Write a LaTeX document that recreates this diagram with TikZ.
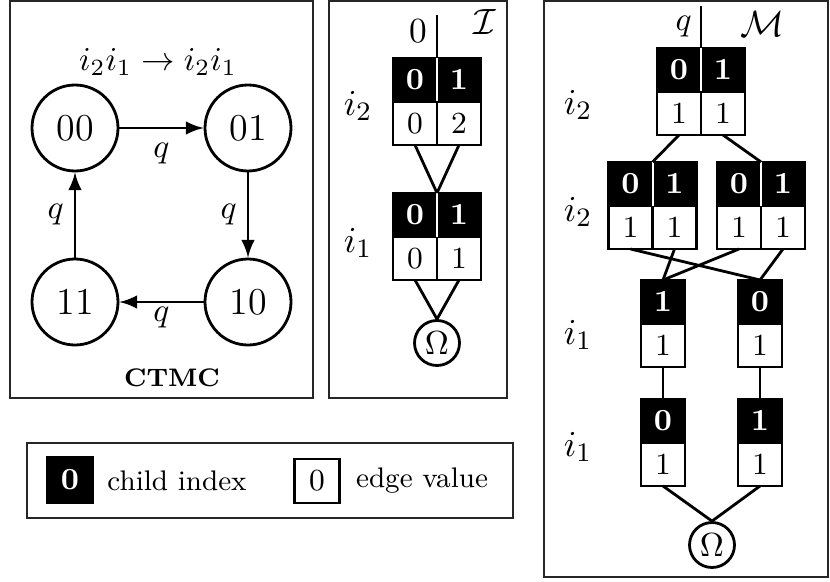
\documentclass[tikz,border=0pt]{standalone}
\usepackage{amsmath}
\usepackage{amssymb}
\usetikzlibrary{positioning}

\begin{document}
\begin{tikzpicture}[x=0.3pt, y=-0.3pt, line width=0.84pt,
    ci/.style={fill=black, draw=black, text=white, font=\fontsize{9.2}{11}\selectfont\bfseries,
      minimum width=13.2pt, minimum height=13.05pt, inner sep=0pt, outer sep=0pt},
    ev/.style={draw=black, fill=white, font=\fontsize{9.2}{11}\selectfont,
      minimum width=13.2pt, minimum height=13.05pt, inner sep=0pt, outer sep=0pt},
    state/.style={circle, draw, minimum size=25.8pt, inner sep=0pt, font=\fontsize{11.4}{14}\selectfont},
    term/.style={circle, draw, minimum size=13.5pt, inner sep=0pt, font=\fontsize{10.4}{12}\selectfont},
    lvl/.style={font=\fontsize{11.2}{13}\selectfont},
    lbl/.style={inner sep=1.2pt, font=\fontsize{9.9}{12}\selectfont},
    panel/.style={draw=black!85, line width=0.5pt},
    gap/.style={draw=white, line width=0.6pt}]
  \useasboundingbox (0,0) rectangle (830,581);

  % Frames
  \draw[panel] (10,1) rectangle (313,398);
  \draw[panel] (329,1) rectangle (507,398);
  \draw[panel] (544,1) rectangle (828,577);
  \draw[panel] (27,443) rectangle (513,518);

  % CTMC
  \node[lbl] (title) at (158,62) {$i_2i_1 \rightarrow i_2i_1$};
  \node[state] (s00) at (75,128) {00};
  \node[state] (s01) at (248,128) {01};
  \node[state] (s10) at (248,302) {10};
  \node[state] (s11) at (75,302) {11};
  \draw[-latex] (s00) -- (s01) node[lbl, midway, below=3pt] {$q$};
  \draw[-latex] (s01) -- (s10) node[lbl, midway, left=1.8pt] {$q$};
  \draw[-latex] (s10) -- (s11) node[lbl, midway, below=0pt] {$q$};
  \draw[-latex] (s11) -- (s00) node[lbl, midway, left=1.8pt] {$q$};
  \node[font=\fontsize{7.6}{9}\selectfont\bfseries] (ctmc) at (172,378) {CTMC};

  % Index diagram
  \node[lvl] (iname) at (485,22) {$\mathcal{I}$};
  \node[lvl] (il2) at (358,106) {$i_2$};
  \node[lvl] (il1) at (358,243) {$i_1$};
  \coordinate (iroot) at (437,15);
  \node[ci, anchor=north east] (a-c0) at (437,58) {0};
  \node[ci, right=0pt of a-c0] (a-c1) {1};
  \node[ev, below=0pt of a-c0] (a-v0) {0};
  \node[ev, below=0pt of a-c1] (a-v1) {2};
  \node[ci, anchor=north east] (b-c0) at (437,193) {0};
  \node[ci, right=0pt of b-c0] (b-c1) {1};
  \node[ev, below=0pt of b-c0] (b-v0) {0};
  \node[ev, below=0pt of b-c1] (b-v1) {1};
  \node[term] (iomega) at (437,343) {$\Omega$};
  \draw[gap] (a-c0.north east) -- (a-c0.south east);
  \draw[gap] (b-c0.north east) -- (b-c0.south east);
  \draw (iroot) -- (a-c0.north east) node[pos=0.38, left=1.2pt, inner sep=1.2pt, font=\fontsize{10.6}{12}\selectfont] {0};
  \draw (a-v0.south) -- (b-c0.north east);
  \draw (a-v1.south) -- (b-c0.north east);
  \draw (b-v0.south) -- (iomega.north);
  \draw (b-v1.south) -- (iomega.north);

  % Rate diagram
  \node[lvl] (mname) at (762,24) {$\mathcal{M}$};
  \node[lvl] (ml2a) at (578,105) {$i_2$};
  \node[lvl] (ml2b) at (578,212) {$i_2$};
  \node[lvl] (ml1a) at (578,335) {$i_1$};
  \node[lvl] (ml1b) at (578,447) {$i_1$};
  \coordinate (mroot) at (701,6);
  \node[ci, anchor=north east] (t-c0) at (701,48) {0};
  \node[ci, right=0pt of t-c0] (t-c1) {1};
  \node[ev, below=0pt of t-c0] (t-v0) {1};
  \node[ev, below=0pt of t-c1] (t-v1) {1};
  \node[ci, anchor=north east] (la-c0) at (652.5,162) {0};
  \node[ci, right=0pt of la-c0] (la-c1) {1};
  \node[ev, below=0pt of la-c0] (la-v0) {1};
  \node[ev, below=0pt of la-c1] (la-v1) {1};
  \node[ci, anchor=north east] (lb-c0) at (761,162) {0};
  \node[ci, right=0pt of lb-c0] (lb-c1) {1};
  \node[ev, below=0pt of lb-c0] (lb-v0) {1};
  \node[ev, below=0pt of lb-c1] (lb-v1) {1};
  \node[ci, anchor=north] (ma-c) at (663,280) {1};
  \node[ev, below=0pt of ma-c] (ma-v) {1};
  \node[ci, anchor=north] (mb-c) at (760,280) {0};
  \node[ev, below=0pt of mb-c] (mb-v) {1};
  \node[ci, anchor=north] (na-c) at (663,399) {0};
  \node[ev, below=0pt of na-c] (na-v) {1};
  \node[ci, anchor=north] (nb-c) at (760,399) {1};
  \node[ev, below=0pt of nb-c] (nb-v) {1};
  \node[term] (momega) at (712,545) {$\Omega$};
  \draw[gap] (t-c0.north east) -- (t-c0.south east);
  \draw[gap] (la-c0.north east) -- (la-c0.south east);
  \draw[gap] (lb-c0.north east) -- (lb-c0.south east);
  \draw (mroot) -- (t-c0.north east) node[lbl, pos=0.5, left=1.2pt] {$q$};
  \draw (t-v0.south) -- (la-c0.north east);
  \draw (t-v1.south) -- (lb-c0.north east);
  \draw (la-v0.south) -- (mb-c.north);
  \draw (la-v1.south) -- (ma-c.north);
  \draw (lb-v0.south) -- (ma-c.north);
  \draw (lb-v1.south) -- (mb-c.north);
  \draw (ma-v) -- (na-c);
  \draw (mb-v) -- (nb-c);
  \draw (na-v.south) -- (momega.north);
  \draw (nb-v.south) -- (momega.north);

  % Legend
  \node[ci, minimum width=13.8pt, minimum height=13.5pt] (key-ci) at (70,480) {0};
  \node[font=\fontsize{8.5}{10}\selectfont] (key-citxt) at (177,481) {child index};
  \node[ev, minimum width=13.5pt, minimum height=13.2pt] (key-ev) at (317,481) {0};
  \node[font=\fontsize{8.5}{10}\selectfont] (key-evtxt) at (422,481) {edge value};
\end{tikzpicture}
\end{document}
